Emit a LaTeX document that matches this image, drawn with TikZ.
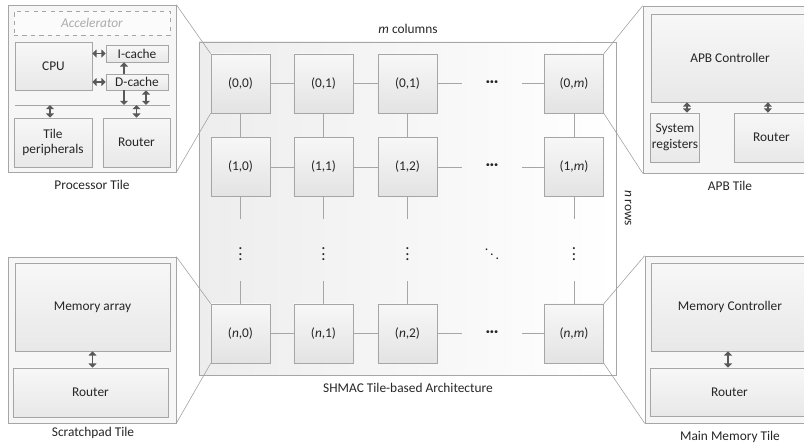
\documentclass[tikz,border=0pt]{standalone}
\usepackage{fontspec}
\setmainfont{Carlito}
\usetikzlibrary{arrows.meta,shadows}
\definecolor{boxline}{HTML}{A6A6A6}
\definecolor{arrowgray}{HTML}{595959}
\definecolor{textgray}{HTML}{262626}

\begin{document}
\begin{tikzpicture}[x=0.025cm,y=-0.025cm,
  font=\fontsize{9.5}{11}\selectfont, text=textgray,
  shade/.style={drop shadow={shadow xshift=0.7pt,shadow yshift=-0.7pt,opacity=0.3}},
  tile/.style={shade,draw=boxline,top color=gray!6,bottom color=gray!22,minimum size=1.475cm},
  part/.style={shade,draw=boxline,top color=gray!6,bottom color=gray!18,align=center,inner sep=1pt},
  holder/.style={shade,draw=boxline,fill=gray!7},
  link/.style={draw=boxline,line width=0.6pt},
  callout/.style={draw=gray!75,line width=0.4pt},
  hdots/.style={minimum width=1.5cm,minimum height=1.475cm,inner sep=0pt,font=\fontsize{11}{11}\selectfont\bfseries},
  vdotsbox/.style={minimum width=1.475cm,minimum height=1.55cm,inner sep=0pt,font=\fontsize{12}{12}\selectfont\boldmath},
  bidir/.style={{Triangle[width=5.5pt,length=3pt]}-{Triangle[width=5.5pt,length=3pt]},draw=arrowgray,line width=1pt},
  onedir/.style={-{Triangle[width=5.5pt,length=3pt]},draw=arrowgray,line width=1pt}]
\useasboundingbox (0,0) rectangle (804,442);

\node[draw=boxline,left color=gray!14,right color=white,minimum width=10.425cm,minimum height=8.325cm] (shmac) at (407.5,208.5) {};
\node (cols) at (408,29) {\textit{m} columns};
\node[rotate=-90] (rows) at (628,208) {\textit{n} rows};
\node (arch) at (408,388) {SHMAC Tile-based Architecture};

\node[tile] (t00) at (240.5,83.5) {(0,0)};
\node[tile] (t01) at (323.5,83.5) {(0,1)};
\node[tile] (t02) at (407.5,83.5) {(0,1)};
\node[hdots] (h0) at (492,83.5) {···};
\node[tile] (t0m) at (574,83.5) {(0,\textit{m})};

\node[tile] (t10) at (240.5,167) {(1,0)};
\node[tile] (t11) at (323.5,167) {(1,1)};
\node[tile] (t12) at (407.5,167) {(1,2)};
\node[hdots] (h1) at (492,167) {···};
\node[tile] (t1m) at (574,167) {(1,\textit{m})};

\node[vdotsbox] (v0) at (240.5,250) {$\vdots$};
\node[vdotsbox] (v1) at (323.5,250) {$\vdots$};
\node[vdotsbox] (v2) at (407.5,250) {$\vdots$};
\node[vdotsbox,font=\fontsize{10}{10}\selectfont\boldmath] (dd) at (492,250) {$\ddots$};
\node[vdotsbox] (vm) at (574,250) {$\vdots$};

\node[tile] (tn0) at (240.5,333.5) {(\textit{n},0)};
\node[tile] (tn1) at (323.5,333.5) {(\textit{n},1)};
\node[tile] (tn2) at (407.5,333.5) {(\textit{n},2)};
\node[hdots] (hn) at (492,333.5) {···};
\node[tile] (tnm) at (574,333.5) {(\textit{n},\textit{m})};

\draw[link] (t00) -- (t01) -- (t02) -- (h0);
\draw[link] (h0) -- (t0m);
\draw[link] (t10) -- (t11) -- (t12) -- (h1);
\draw[link] (h1) -- (t1m);
\draw[link] (tn0) -- (tn1) -- (tn2) -- (hn);
\draw[link] (hn) -- (tnm);
\draw[link] (t00) -- (t10) -- (v0) -- (tn0);
\draw[link] (t01) -- (t11) -- (v1) -- (tn1);
\draw[link] (t02) -- (t12) -- (v2) -- (tn2);
\draw[link] (t0m) -- (t1m) -- (vm) -- (tnm);

\node[holder,minimum width=4.2cm,minimum height=4.175cm] (proc) at (92,88.5) {};
\node[draw=boxline,dashed,fill=gray!3,text=gray!65,minimum width=3.9cm,minimum height=0.6cm] (accel) at (92,23) {\textit{Accelerator}};
\node[part,minimum width=1.925cm,minimum height=1.2cm] (cpu) at (53.5,66) {CPU};
\node[part,minimum width=1.55cm,minimum height=0.425cm] (icache) at (137,53.5) {I-cache};
\node[part,minimum width=1.55cm,minimum height=0.4cm] (dcache) at (137,82) {D-cache};
\node[part,minimum width=1.95cm,minimum height=1.225cm] (periph) at (53,142.5) {Tile\\peripherals};
\node[part,minimum width=1.675cm,minimum height=1.225cm] (prouter) at (136.5,142.5) {Router};
\coordinate (busl) at (15,105);
\coordinate (busr) at (170,105);
\draw[draw=boxline,line width=0.6pt] (busl) -- (busr);
\draw[bidir] (icache.west -| cpu.east) -- (icache.west);
\draw[bidir] (dcache.west -| cpu.east) -- (dcache.west);
\draw[onedir] ([xshift=-0.325cm]dcache.north) -- ([xshift=-0.325cm]dcache.north |- icache.south);
\draw[onedir] ([xshift=-0.325cm]dcache.south) -- ([xshift=-0.325cm]dcache.south |- busl);
\draw[bidir] ([xshift=0.225cm]dcache.south) -- ([xshift=0.225cm]dcache.south |- busl);
\draw[bidir] ([xshift=-0.075cm]periph.north |- busl) -- ([xshift=-0.075cm]periph.north);
\draw[bidir] (prouter.north |- busl) -- (prouter.north);
\node (proclabel) at (92,185) {Processor Tile};

\node[holder,minimum width=4.35cm,minimum height=4.175cm] (apb) at (730,89.5) {};
\node[part,minimum width=3.95cm,minimum height=2.2cm] (apbctrl) at (730,58) {APB Controller};
\node[part,minimum width=1.2cm,minimum height=1.225cm] (sysreg) at (675,137.5) {System\\registers};
\node[part,minimum width=1.875cm,minimum height=1.225cm] (arouter) at (771.5,137.5) {Router};
\draw[bidir] ([xshift=0.3cm]sysreg.north |- apbctrl.south) -- ([xshift=0.3cm]sysreg.north);
\draw[bidir] ([xshift=-0.09cm]arouter.north |- apbctrl.south) -- ([xshift=-0.09cm]arouter.north);
\node (apblabel) at (730,186) {APB Tile};

\node[holder,minimum width=4.2cm,minimum height=4.15cm] (spad) at (92,340) {};
\node[part,minimum width=3.875cm,minimum height=2.2cm] (memarr) at (92.5,307) {Memory array};
\node[part,minimum width=3.875cm,minimum height=1.225cm] (srouter) at (90.5,392.5) {Router};
\draw[bidir] (memarr.south) -- (memarr.south |- srouter.north);
\node (spadlabel) at (93,433) {Scratchpad Tile};

\node[holder,minimum width=4.3cm,minimum height=4.175cm] (mmem) at (731,339.5) {};
\node[part,minimum width=3.95cm,minimum height=2.2cm] (memctrl) at (730,307) {Memory Controller};
\node[part,minimum width=3.975cm,minimum height=1.2cm] (mrouter) at (729.5,392) {Router};
\draw[bidir] ([xshift=-0.05cm]memctrl.south) -- ([xshift=-0.05cm]memctrl.south |- mrouter.north);
\node (mmemlabel) at (730,437) {Main Memory Tile};

\draw[callout] (proc.north east) -- (t00.north west);
\draw[callout] (proc.south east) -- (t00.south west);
\draw[callout] (apb.north west) -- (t0m.north east);
\draw[callout] (apb.south west) -- (t0m.south east);
\draw[callout] (spad.north east) -- (tn0.north west);
\draw[callout] (spad.south east) -- (tn0.south west);
\draw[callout] (mmem.north west) -- (tnm.north east);
\draw[callout] (mmem.south west) -- (tnm.south east);
\end{tikzpicture}
\end{document}
